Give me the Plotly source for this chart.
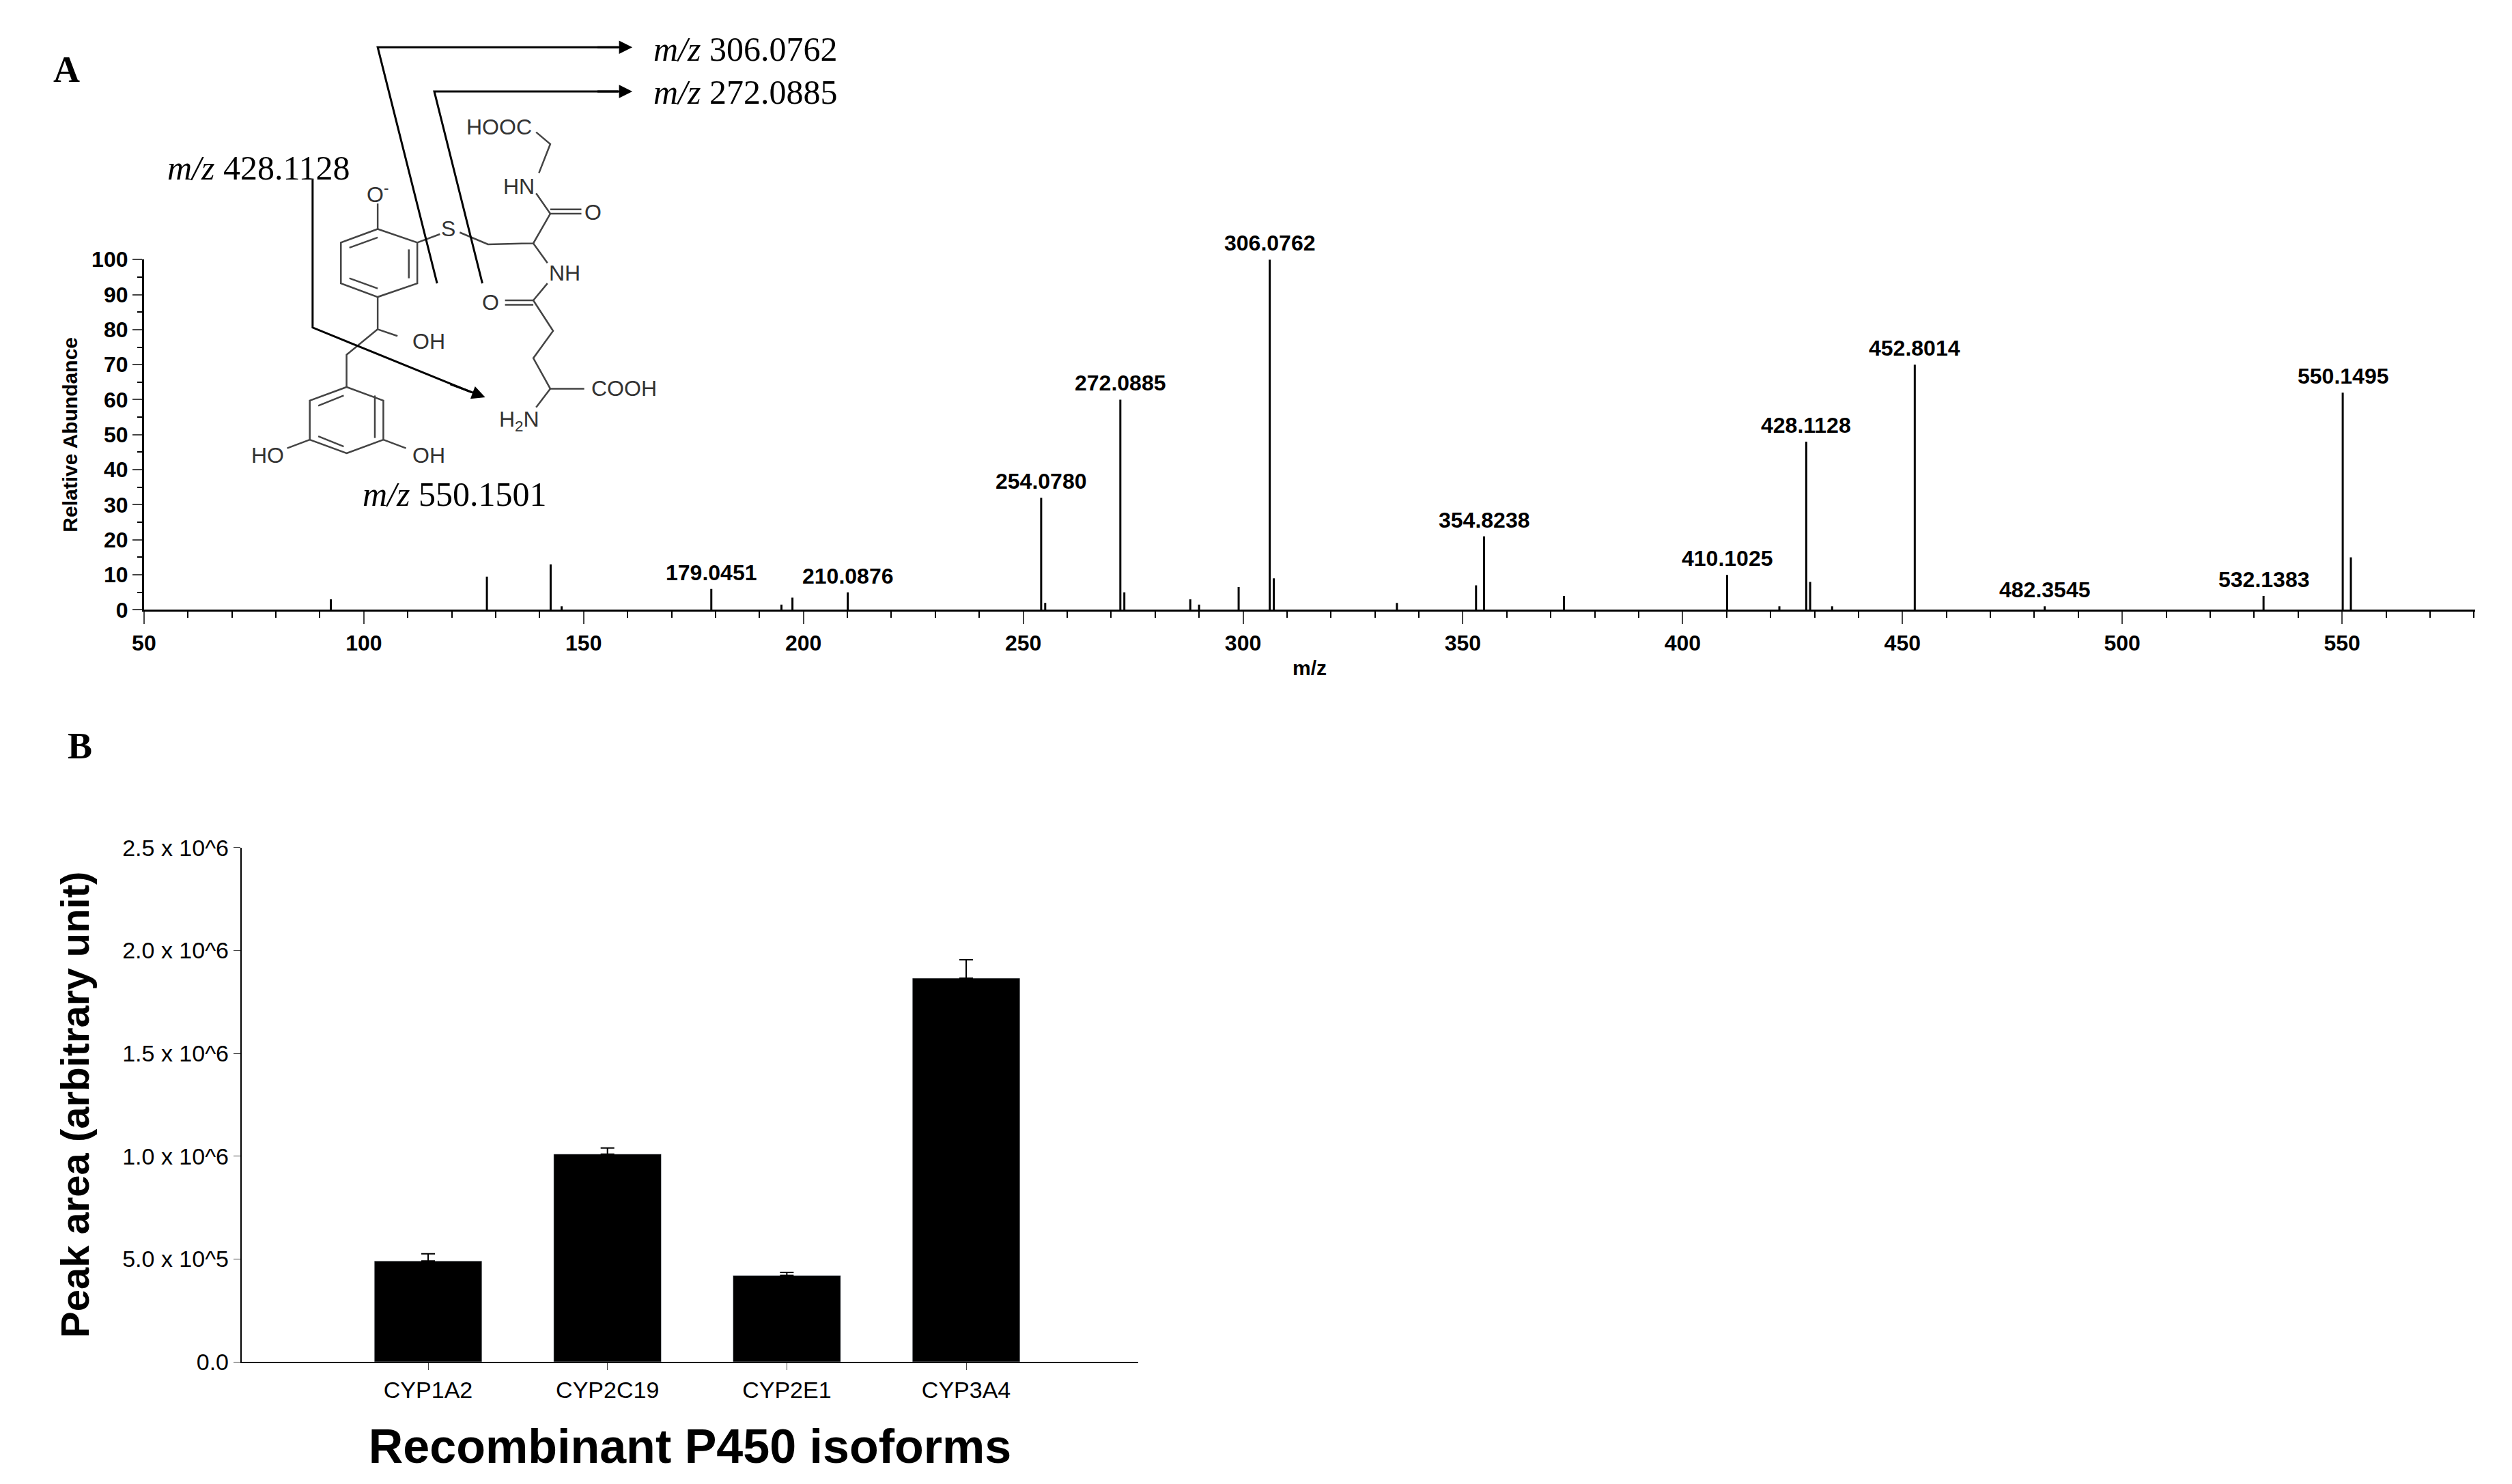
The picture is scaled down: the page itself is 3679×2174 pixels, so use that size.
import plotly.graph_objects as go

# panel A: MS/MS spectrum
mz = [92.5, 128, 142.5, 145, 179.0451, 195, 197.5, 210.0876, 254.0780, 255, 272.0885, 273,
      288, 290, 299, 306.0762, 307, 335, 353, 354.8238, 373, 410.1025, 422, 428.1128, 429,
      434, 452.8014, 482.3545, 532.1383, 550.1495, 552]
intensity = [3, 9.5, 13, 1, 6, 1.5, 3.5, 5, 32, 2, 60, 5,
             3, 1.5, 6.5, 100, 9, 2, 7, 21, 4, 10, 1, 48, 8,
             1, 70, 1, 4, 62, 15]
labeled = [179.0451, 210.0876, 254.0780, 272.0885, 306.0762, 354.8238, 410.1025,
           428.1128, 452.8014, 482.3545, 532.1383, 550.1495]

# panel B: peak areas
isoforms = ['CYP1A2', 'CYP2C19', 'CYP2E1', 'CYP3A4']
area = [4.9e5, 1.01e6, 4.2e5, 1.865e6]
area_err = [0.35e5, 0.3e5, 0.15e5, 0.9e5]
ytick_vals = [0, 5e5, 1e6, 1.5e6, 2e6, 2.5e6]
ytick_text = ['0.0', '5.0 x 10^5', '1.0 x 10^6', '1.5 x 10^6', '2.0 x 10^6', '2.5 x 10^6']

W, H = 3679, 2174

# page pixel -> paper (small correction for the page offset seen in the render)
def PX(ax):
    return (ax - 24) / 0.9956 / W

def PY(ay):
    return 1 - (ay - 25) / 0.982 / H

xs, ys = [], []
for m, v in zip(mz, intensity):
    xs += [m, m, None]
    ys += [0, v, None]

fig = go.Figure()
fig.add_trace(go.Scatter(x=xs, y=ys, mode='lines', line=dict(color='black', width=3),
                         xaxis='x', yaxis='y', showlegend=False, hoverinfo='skip'))
fig.add_trace(go.Bar(x=list(range(len(isoforms))), y=area, width=0.6, marker_color='black',
                     error_y=dict(type='data', array=area_err, arrayminus=[0] * len(area),
                                  symmetric=False, color='black', thickness=2, width=10),
                     xaxis='x2', yaxis='y2', showlegend=False))

ann = []
for m, v in zip(mz, intensity):
    if m in labeled:
        ann.append(dict(x=m, y=v, xref='x', yref='y', text='<b>%.4f</b>' % m, showarrow=False,
                        yanchor='bottom', yshift=4, font=dict(family='Arial', size=32, color='black')))

# chemical structure (sketch coordinates)
def P(zx, zy):
    return PX(zx / 1.206), PY(zy / 2.01)

shapes = []
def bond(pts, width=2.5, color='#444'):
    path = ''
    for i, (a, b) in enumerate(pts):
        px, py = P(a, b)
        path += ('M' if i == 0 else 'L') + '%f,%f ' % (px, py)
    shapes.append(dict(type='path', path=path, xref='paper', yref='paper',
                       line=dict(color=color, width=width)))

ring1 = [(665, 670), (735, 710), (735, 830), (665, 870), (600, 830), (600, 710), (665, 670)]
ring2 = [(610, 1135), (675, 1175), (675, 1290), (610, 1330), (545, 1290), (545, 1175), (610, 1135)]
bond(ring1)
bond(ring2)
bond([(720, 730), (720, 815)])
bond([(615, 725), (665, 695)])
bond([(615, 815), (665, 845)])
bond([(660, 1160), (660, 1285)])
bond([(560, 1190), (605, 1160)])
bond([(560, 1280), (605, 1310)])
bond([(665, 670), (665, 595)])
bond([(735, 710), (775, 685)])
bond([(810, 680), (860, 715), (940, 712), (970, 625), (945, 565)])
bond([(970, 625), (1025, 625)])
bond([(970, 612), (1025, 612)])
bond([(950, 505), (970, 420), (945, 385)])
bond([(940, 712), (965, 770)])
bond([(965, 830), (940, 880), (975, 970), (940, 1050), (970, 1140), (1030, 1140)])
bond([(940, 880), (890, 880)])
bond([(940, 893), (890, 893)])
bond([(970, 1140), (945, 1195)])
bond([(665, 870), (665, 965), (700, 985)])
bond([(665, 965), (610, 1040), (610, 1135)])
bond([(545, 1290), (505, 1315)])
bond([(675, 1290), (715, 1315)])

# fragmentation lines
bond([(770, 830), (665, 135), (1090, 135)], width=3, color='black')
bond([(850, 830), (765, 265), (1090, 265)], width=3, color='black')
bond([(550, 525), (550, 960), (830, 1150)], width=3, color='black')

def arrow(x0, y0, x1, y1):
    hx, hy = P(x1, y1)
    tx, ty = P(x0, y0)
    ann.append(dict(x=hx, y=hy, xref='paper', yref='paper', ax=(tx - hx) * W, ay=-(ty - hy) * H,
                    axref='pixel', ayref='pixel', text=' ', showarrow=True, arrowhead=2,
                    arrowsize=1.3, arrowwidth=3, arrowcolor='black'))

arrow(1050, 135, 1115, 135)
arrow(1050, 265, 1115, 265)
arrow(790, 1125, 855, 1165)

def label(zx, zy, text, size=32, family='Arial', anchor='center', color='#333'):
    px, py = P(zx, zy)
    ann.append(dict(x=px, y=py, xref='paper', yref='paper', text=text, showarrow=False,
                    xanchor=anchor, yanchor='middle', font=dict(family=family, size=size, color=color)))

label(665, 565, 'O<sup>-</sup>')
label(790, 668, 'S')
label(1045, 620, 'O')
label(915, 545, 'HN')
label(880, 370, 'HOOC')
label(995, 800, 'NH')
label(865, 885, 'O')
label(1100, 1140, 'COOH')
label(915, 1235, 'H<sub>2</sub>N')
label(755, 1000, 'OH')
label(470, 1335, 'HO')
label(755, 1335, 'OH')
tfont = 'Liberation Serif'
label(1150, 140, '<i>m/z</i> 306.0762', size=50, family=tfont, anchor='left', color='black')
label(1150, 268, '<i>m/z</i> 272.0885', size=50, family=tfont, anchor='left', color='black')
label(455, 490, '<i>m/z</i> 428.1128', size=50, family=tfont, color='black')
label(800, 1450, '<i>m/z</i> 550.1501', size=50, family=tfont, color='black')
label(115, 200, '<b>A</b>', size=54, family=tfont, color='black')
ann.append(dict(x=PX(95), y=PY(1090), xref='paper', yref='paper', text='<b>B</b>', showarrow=False,
                font=dict(family=tfont, size=54, color='black')))

bold_tick = dict(family='Arial', size=32, color='black', weight='bold')

fig.update_layout(
    width=W, height=H, margin=dict(l=0, r=0, t=0, b=0),
    plot_bgcolor='white', paper_bgcolor='white',
    annotations=ann, shapes=shapes,
    xaxis=dict(domain=[PX(209), PX(3625)], range=[50, 580.3], showline=True, linecolor='black',
               linewidth=3, ticks='outside', ticklen=18, tickwidth=2, dtick=50, tick0=50,
               minor=dict(dtick=10, ticks='outside', ticklen=9, tickcolor='black'),
               showgrid=False, zeroline=False, tickfont=bold_tick,
               title=dict(text='<b>m/z</b>', font=dict(family='Arial', size=30, color='black'), standoff=10)),
    yaxis=dict(domain=[PY(891), PY(378)], range=[0, 100], showline=True, linecolor='black',
               linewidth=3, ticks='outside', ticklen=14, tickwidth=2, dtick=10,
               minor=dict(dtick=5, ticks='outside', ticklen=7, tickcolor='black'),
               showgrid=False, zeroline=False, tickfont=bold_tick,
               title=dict(text='<b>Relative Abundance</b>', font=dict(family='Arial', size=30, color='black'),
                          standoff=12)),
    xaxis2=dict(domain=[PX(352), PX(1666)], range=[-1.04, 3.96], showline=True, linecolor='black',
                linewidth=2, ticks='outside', ticklen=10, tickvals=list(range(len(isoforms))),
                ticktext=isoforms, showgrid=False, zeroline=False, anchor='y2',
                tickfont=dict(family='Arial', size=34, color='black'),
                title=dict(text='<b>Recombinant P450 isoforms</b>',
                           font=dict(family='Arial', size=70, color='black'), standoff=40)),
    yaxis2=dict(domain=[PY(1992), PY(1239)], range=[0, 2.5e6], showline=True, linecolor='black',
                linewidth=2, ticks='outside', ticklen=10, tickvals=ytick_vals, ticktext=ytick_text,
                showgrid=False, zeroline=False, anchor='x2',
                tickfont=dict(family='Arial', size=34, color='black'),
                title=dict(text='<b>Peak area (arbitrary unit)</b>',
                           font=dict(family='Arial', size=58, color='black'), standoff=30)),
)

fig.write_html('out.html')
